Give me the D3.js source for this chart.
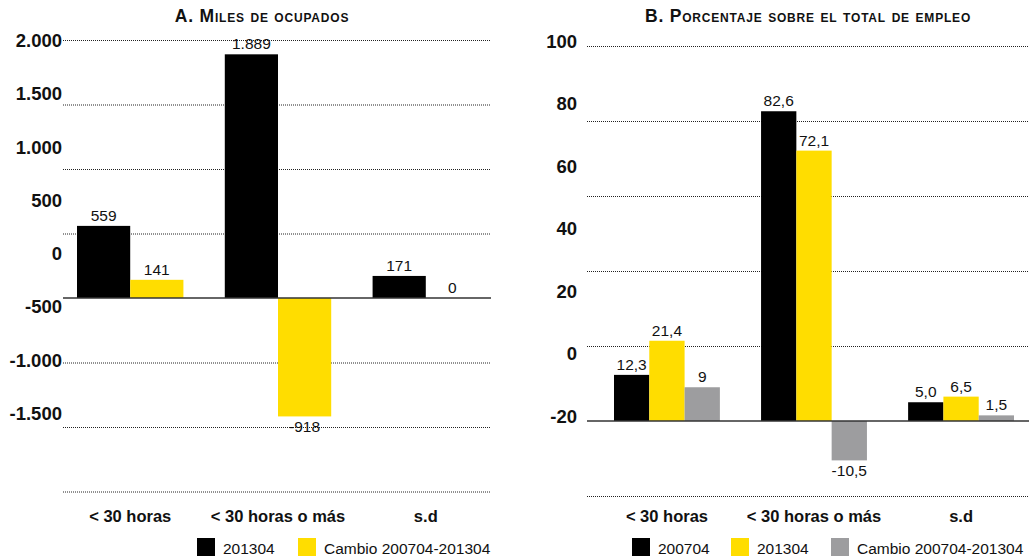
<!DOCTYPE html>
<html>
<head>
<meta charset="utf-8">
<script src="https://cdn.jsdelivr.net/npm/d3@7"></script>
<style>
body { margin: 0; background: #fff; }
svg { display: block; font-family: "Liberation Sans", Arial, Helvetica, sans-serif; }
</style>
</head>
<body>
<div id="chart"></div>
<script>
// data
var categories = ["< 30 horas", "< 30 horas o más", "s.d"];

var seriesA = ["201304", "Cambio 200704-201304"];
var valuesA201304 = [559, 1889, 171];
var valuesACambio = [141, -918, 0];
var ticksA = [2000, 1500, 1000, 500, 0, -500, -1000, -1500];

var seriesB = ["200704", "201304", "Cambio 200704-201304"];
var valuesB200704 = [12.3, 82.6, 5.0];
var valuesB201304 = [21.4, 72.1, 6.5];
var valuesBCambio = [9, -10.5, 1.5];
var ticksB = [100, 80, 60, 40, 20, 0, -20];

var colors = ["#000000", "#FFDD00", "#9D9D9F"];

var es = d3.formatLocale({decimal: ",", thousands: ".", grouping: [3], currency: ["", "€"], minus: "-"});

var svg = d3.select("#chart").append("svg")
  .attr("width", 1030)
  .attr("height", 559);

// ---------- helper to draw one panel
function drawPanel(cfg) {
  var g = svg.append("g");

  // gridlines (dotted) on the data scale
  g.append("g")
    .attr("transform", "translate(" + cfg.left + ",0)")
    .call(d3.axisLeft(cfg.y).tickValues(cfg.ticks.filter(function(t) { return t !== 0; }))
      .tickSize(-(cfg.right - cfg.left)).tickFormat(""))
    .call(function(a) {
      a.select(".domain").remove();
      a.selectAll("line")
        .attr("stroke", "#222")
        .attr("stroke-width", 1)
        .attr("stroke-dasharray", "1,1");
    });

  // tick labels (placed on their own scale, like the original)
  g.append("g")
    .attr("transform", "translate(" + cfg.labelX + ",0)")
    .call(d3.axisLeft(cfg.labelY).tickValues(cfg.ticks).tickSize(0).tickPadding(0)
      .tickFormat(cfg.tickFormat))
    .call(function(a) {
      a.select(".domain").remove();
      a.selectAll("text")
        .attr("dy", 0)
        .attr("fill", "#111")
        .style("font-size", "18.5px")
        .style("font-weight", "bold")
        .style("font-family", "'Liberation Sans', Arial, sans-serif");
    });

  // bars
  var x1 = d3.scaleBand().domain(cfg.series).range([0, cfg.x0.bandwidth()]);
  var rows = [];
  categories.forEach(function(c, i) {
    cfg.series.forEach(function(s, j) {
      rows.push({cat: c, ser: s, idx: j, v: cfg.values[j][i]});
    });
  });

  g.selectAll(".bar")
    .data(rows)
    .enter().append("rect")
    .attr("class", "bar")
    .attr("x", function(d) { return cfg.x0(d.cat) + x1(d.ser); })
    .attr("width", x1.bandwidth())
    .attr("y", function(d) { return cfg.y(Math.max(0, d.v)); })
    .attr("height", function(d) { return Math.abs(cfg.y(d.v) - cfg.y(0)); })
    .attr("fill", function(d) { return colors[d.idx]; });

  // baseline
  g.append("line")
    .attr("x1", cfg.left).attr("x2", cfg.right)
    .attr("y1", cfg.y(0)).attr("y2", cfg.y(0))
    .attr("stroke", "#333")
    .attr("stroke-width", 1.4);

  // value labels
  g.selectAll(".val")
    .data(rows)
    .enter().append("text")
    .attr("class", "val")
    .attr("x", function(d) { return cfg.x0(d.cat) + x1(d.ser) + x1.bandwidth() / 2; })
    .attr("y", function(d) { return d.v < 0 ? cfg.y(d.v) + 16 : cfg.y(d.v) - 5; })
    .attr("text-anchor", "middle")
    .attr("fill", "#111")
    .style("font-size", "15.5px")
    .text(function(d) { return cfg.valFormat(d); });

  // category labels
  g.append("g")
    .attr("transform", "translate(0,507)")
    .call(d3.axisBottom(cfg.x0).tickSize(0).tickPadding(0))
    .call(function(a) {
      a.select(".domain").remove();
      a.selectAll("text")
        .attr("dy", "0.9em")
        .attr("fill", "#111")
        .style("font-size", "16.5px")
        .style("font-weight", "bold")
        .style("font-family", "'Liberation Sans', Arial, sans-serif");
    });

  // title
  g.append("text")
    .attr("x", cfg.titleX)
    .attr("y", 22)
    .attr("text-anchor", "middle")
    .attr("fill", "#111")
    .style("font-size", "17.5px")
    .style("letter-spacing", "0.8px")
    .style("font-weight", "bold")
    .style("font-variant", "small-caps")
    .text(cfg.title);

  // legend
  var leg = g.selectAll(".leg")
    .data(cfg.series)
    .enter().append("g")
    .attr("class", "leg")
    .attr("transform", function(d, i) { return "translate(" + cfg.legendX[i] + ",538)"; });
  leg.append("rect")
    .attr("width", 18).attr("height", 18)
    .attr("fill", function(d, i) { return colors[i]; });
  leg.append("text")
    .attr("x", 26).attr("y", 16)
    .attr("fill", "#111")
    .style("font-size", "15.5px")
    .text(function(d) { return d; });
}

// ---------- panel A
var yA = d3.scaleLinear().domain([-1500, 2000]).range([491.5, 40]);
var labelYA = d3.scaleLinear().domain([-1500, 2000]).range([419.3, 46.7]);
var x0A = d3.scaleBand().domain(categories).range([77, 479]).paddingInner(0.28);

drawPanel({
  title: "A. Miles de ocupados",
  titleX: 262,
  series: seriesA,
  values: [valuesA201304, valuesACambio],
  ticks: ticksA,
  y: yA,
  labelY: labelYA,
  labelX: 62,
  left: 63,
  right: 491,
  x0: x0A,
  tickFormat: es.format(",d"),
  valFormat: function(d) { return es.format(",d")(d.v); },
  legendX: [197, 298]
});

// ---------- panel B
var yB = d3.scaleLinear().domain([-20, 100]).range([496, 46]);
var labelYB = d3.scaleLinear().domain([-20, 100]).range([422, 47.3]);
var x0B = d3.scaleBand().domain(categories).range([614, 1014]).paddingInner(0.28);

drawPanel({
  title: "B. Porcentaje sobre el total de empleo",
  titleX: 808,
  series: seriesB,
  values: [valuesB200704, valuesB201304, valuesBCambio],
  ticks: ticksB,
  y: yB,
  labelY: labelYB,
  labelX: 577,
  left: 587,
  right: 1029,
  x0: x0B,
  tickFormat: es.format("d"),
  valFormat: function(d) { return d.idx === 2 ? es.format("~f")(d.v) : es.format(".1f")(d.v); },
  legendX: [632, 731, 831]
});
</script>
</body>
</html>
